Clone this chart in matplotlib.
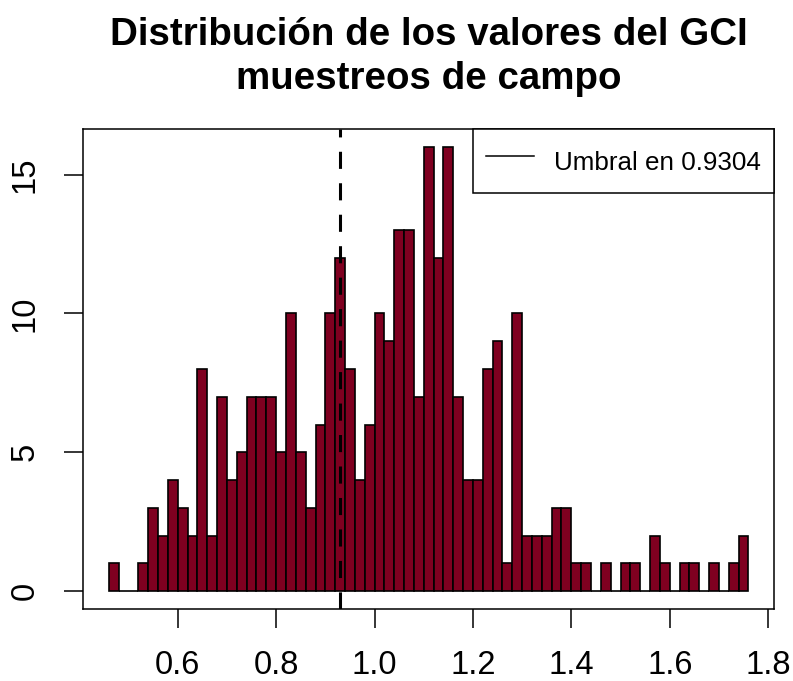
import matplotlib
matplotlib.use('Agg')
import matplotlib.pyplot as plt
from matplotlib.lines import Line2D
import numpy as np

plt.rcParams['font.family'] = ['Liberation Sans', 'DejaVu Sans']

# histograma del GCI, cortes cada 0.02 desde 0.46
bin_start = 0.46
bin_width = 0.02
counts = [1, 0, 0, 1, 3, 2, 4, 3, 2, 8, 2, 7, 4, 5, 7, 7, 7, 5, 10, 5, 3, 6, 10, 12,
          8, 4, 6, 10, 9, 13, 13, 7, 16, 12, 16, 7, 4, 4, 8, 9, 1, 10, 2, 2, 2, 3,
          3, 1, 1, 0, 1, 0, 1, 1, 0, 2, 1, 0, 1, 1, 0, 1, 0, 1, 2]
umbral = 0.9304
x_ticks = [0.6, 0.8, 1.0, 1.2, 1.4, 1.6, 1.8]
y_ticks = [0, 5, 10, 15]

edges = bin_start + bin_width * np.arange(len(counts) + 1)

fig = plt.figure(figsize=(7.93, 6.81), dpi=100)
ax = fig.add_axes([83.3 / 793, 1 - 609 / 681, (774 - 83.3) / 793, (609 - 129) / 681])

ax.bar(edges[:-1], counts, width=bin_width, align='edge',
       color='#7f0020', edgecolor='black', linewidth=1.2, zorder=2)

# umbral
ax.axvline(umbral, color='black', lw=2.2, linestyle=(0, (5.6, 4.7)), zorder=3)

# rango como en R (4% extra a cada lado)
span_x = edges[-1] - edges[0]
ax.set_xlim(edges[0] - 0.04 * span_x, edges[-1] + 0.04 * span_x)
ax.set_ylim(-0.04 * max(counts), max(counts) * 1.04)

ax.set_xticks(x_ticks)
ax.set_xticklabels([f'{v:.1f}' for v in x_ticks])
ax.set_yticks(y_ticks)
ax.set_yticklabels([str(v) for v in y_ticks], rotation=90, va='center')
ax.tick_params(axis='both', direction='out', length=13.5, width=1.1,
               labelsize=23.5, colors='black')
ax.tick_params(axis='x', pad=16)
ax.tick_params(axis='y', pad=17)
for s in ax.spines.values():
    s.set_linewidth(1.1)
    s.set_color('black')

leg = ax.legend(handles=[Line2D([], [], color='black', lw=1.1)],
                labels=[f'Umbral en {umbral}'], loc='upper right',
                borderaxespad=0, fancybox=False, edgecolor='black',
                framealpha=1, fontsize=18.7, handlelength=1.85,
                handleheight=1.9, handletextpad=0.77, borderpad=0.5)
leg.get_frame().set_linewidth(1.1)

fig.text((83.3 + 774) / 2 / 793, 1 - 57 / 681,
         'Distribución de los valores del GCI\nmuestreos de campo',
         ha='center', va='center', fontsize=27.7, fontweight='bold',
         linespacing=1.28)

fig.savefig('out.png', dpi=100)
